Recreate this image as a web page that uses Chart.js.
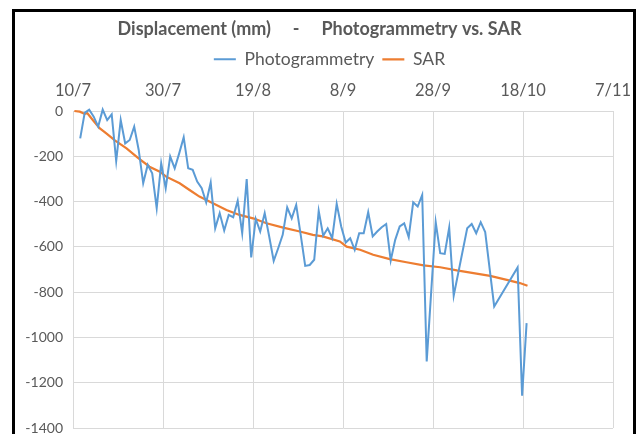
<!DOCTYPE html>
<html>
<head>
<meta charset="utf-8">
<script src="https://cdn.jsdelivr.net/npm/chart.js@4.4.1/dist/chart.umd.min.js"></script>
<style>
  html, body { margin: 0; padding: 0; background: #ffffff; }
  #wrap { position: relative; width: 639px; height: 434px; overflow: hidden; }
  #frame { position: absolute; left: 12px; top: 9px; width: 624px; height: 500px;
           box-sizing: border-box; border: 3px solid #000; pointer-events: none; }
  canvas { position: absolute; left: 0; top: 0; }
</style>
</head>
<body>
<div id="wrap">
  <canvas id="c" width="639" height="434"></canvas>
  <div id="frame"></div>
</div>
<script>
// ---- data (days since 10/7, displacement in mm) ----
const tickLabels = ['10/7', '30/7', '19/8', '8/9', '28/9', '18/10', '7/11'];

const photoDays = [1.6, 2.6, 3.6, 4.6, 5.6, 6.6, 7.6, 8.6, 9.6, 10.6,
  11.6, 12.6, 13.6, 14.6, 15.6, 16.6, 17.6, 18.6, 19.6, 20.6,
  21.6, 22.6, 23.6, 24.6, 25.6, 26.6, 27.6, 28.6, 29.6, 30.6,
  31.6, 32.6, 33.6, 34.6, 35.6, 36.6, 37.6, 38.6, 39.6, 40.6,
  41.6, 42.6, 43.6, 44.6, 45.6, 46.6, 47.6, 48.6, 49.6, 50.6,
  51.6, 52.6, 53.6, 54.6, 55.6, 56.6, 57.6, 58.6, 59.6, 60.6,
  61.6, 62.6, 63.6, 64.6, 65.6, 66.6, 67.6, 68.6, 69.6, 70.6,
  71.6, 72.6, 73.6, 74.6, 75.6, 76.6, 77.6, 78.6, 80.6, 81.6,
  82.6, 83.6, 84.6, 87.6, 88.6, 89.6, 90.6, 91.6, 93.6, 98.8,
  99.8, 100.8];
const photoValues = [-121, -8, 6, -25, -69, 6, -40, -15, -221, -40,
  -143, -128, -69, -172, -319, -238, -275, -429, -231, -341,
  -201, -253, -187, -116, -253, -260, -312, -341, -404, -316,
  -518, -451, -528, -459, -469, -396, -540, -301, -647, -476,
  -532, -451, -554, -662, -606, -547, -426, -474, -415, -547,
  -684, -680, -657, -441, -551, -518, -562, -410, -510, -581,
  -562, -613, -540, -540, -447, -554, -532, -513, -499, -660,
  -569, -510, -496, -557, -403, -422, -371, -1106, -491, -628,
  -631, -515, -816, -518, -499, -540, -491, -535, -863, -691,
  -1257, -937];

const sarDays = [0.3, 1.5, 2.6, 3.2, 4.4, 5.9, 7.4, 9.3, 11.9, 14.3,
  17.0, 19.3, 20.7, 23.7, 25.9, 28.1, 31.1, 34.1, 37.0, 40.0,
  43.0, 46.7, 50.4, 53.3, 55.5, 59.3, 60.8, 63.8, 66.7, 70.4,
  74.1, 77.9, 81.6, 85.3, 89.0, 92.7, 96.4, 99.3, 101.0];
const sarValues = [0, -3, -13, -10, -40, -76, -99, -130, -165, -205,
  -246, -268, -290, -319, -349, -378, -407, -437, -459, -474,
  -496, -515, -532, -547, -554, -576, -599, -613, -635, -654,
  -668, -682, -690, -704, -716, -728, -746, -760, -772];

const pts = (xs, ys) => xs.map((x, i) => ({ x: x, y: ys[i] }));

const FONT = 'Lato, "Open Sans", sans-serif';
const GREY = '#595959';
let xAxisHeight = 38;
let yAxisWidth = 47;
const pad = { left: 26, right: 26, top: 0, bottom: 6 };
const legendShift = 10;

const shiftLegend = {
  id: 'shiftLegend',
  afterLayout(chart) {
    if (chart.legend) { chart.legend.left += legendShift; chart.legend.right += legendShift; }
  }
};

const chart = new Chart(document.getElementById('c'), {
  type: 'line',
  data: {
    datasets: [
      { label: 'Photogrammetry', data: pts(photoDays, photoValues),
        borderColor: '#5B9BD5', backgroundColor: '#5B9BD5', borderWidth: 2,
        pointRadius: 0, tension: 0, clip: 6 },
      { label: 'SAR', data: pts(sarDays, sarValues),
        borderColor: '#ED7D31', backgroundColor: '#ED7D31', borderWidth: 2.2,
        pointRadius: 0, tension: 0, clip: 6 }
    ]
  },
  plugins: [shiftLegend],
  options: {
    responsive: false,
    animation: false,
    layout: { padding: pad },
    plugins: {
      title: { display: true,
        text: 'Displacement (mm)     -     Photogrammetry vs. SAR',
        color: GREY, font: { family: FONT, size: 18, weight: 'bold' },
        padding: { top: 18, bottom: 3 } },
      legend: { display: true, position: 'top',
        labels: { color: GREY, font: { family: FONT, size: 17.5 },
          usePointStyle: true, pointStyle: 'line', pointStyleWidth: 22,
          boxWidth: 22, padding: 8 } },
      tooltip: { enabled: false }
    },
    scales: {
      x: { type: 'linear', position: 'top', min: 0, max: 120,
        ticks: { stepSize: 20, color: GREY, padding: 0, maxRotation: 0,
          font: { family: FONT, size: 16.5 },
          callback: v => tickLabels[Math.round(v / 20)] },
        grid: { color: '#d9d9d9', drawTicks: true, tickLength: 10, tickColor: 'rgba(0,0,0,0)' },
        border: { color: '#d9d9d9' },
        afterFit: s => { s.height = xAxisHeight; } },
      y: { min: -1400, max: 0,
        ticks: { stepSize: 200, color: GREY, padding: 0,
          font: { family: FONT, size: 14, lineHeight: 0.7 },
          callback: v => String(v) },
        grid: { color: '#d9d9d9', drawTicks: true, tickLength: 10, tickColor: 'rgba(0,0,0,0)' },
        border: { color: '#d9d9d9' },
        afterFit: s => { s.width = yAxisWidth; } }
    }
  }
});
for (let k = 0; k < 5; k++) {
  const a = chart.chartArea;
  const dt = 111 - a.top, db = a.bottom - 428, dr = a.right - 613, dl = 73 - a.left;
  if (Math.max(Math.abs(dt), Math.abs(db), Math.abs(dr), Math.abs(dl)) < 0.3) break;
  xAxisHeight += dt;
  pad.bottom += db;
  pad.right += dr;
  yAxisWidth += dl;
  chart.options.layout.padding = Object.assign({}, pad);
  chart.update('none');
}
</script>
</body>
</html>
